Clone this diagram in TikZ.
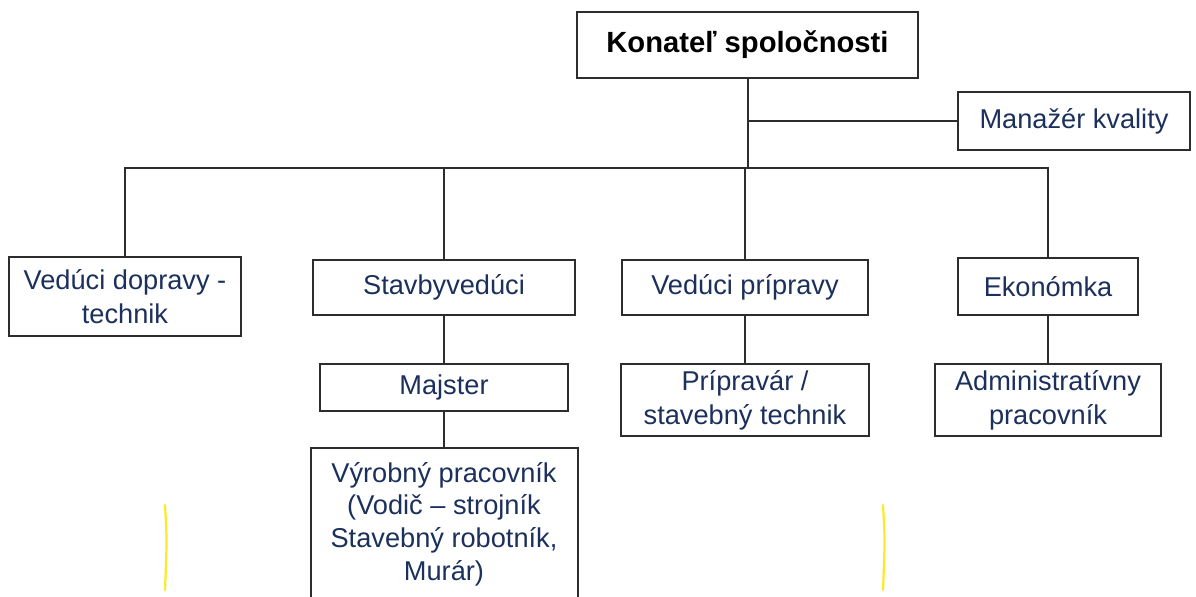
\documentclass[tikz,border=0pt]{standalone}
\usepackage{fontspec}
\setmainfont{Liberation Sans}
\definecolor{txtblue}{RGB}{28,48,92}
\definecolor{edge}{RGB}{45,45,45}
\definecolor{mark}{RGB}{250,235,40}
\begin{document}
\begin{tikzpicture}[x=0.5pt,y=-0.5pt,
  orgbox/.style={draw=edge, line width=1pt, fill=white, inner sep=0pt, align=center,
    text=txtblue, font=\fontsize{13.6}{16.8}\selectfont},
  conn/.style={draw=edge, line width=1pt},
  artifact/.style={draw=mark, line width=1.1pt, line cap=round}]
\useasboundingbox[fill=white] (0,0) rectangle (1196,596);
\begin{scope}
\clip (0,0) rectangle (1196,596);
\node[orgbox, text=black, font=\bfseries\fontsize{14.6}{17}\selectfont,
  minimum width=170.5pt, minimum height=33pt] (konatel) at (747.5,45) {Konateľ spoločnosti};
\node[orgbox, minimum width=116pt, minimum height=29pt] (manazer) at (1074,121) {Manažér kvality};
\node[orgbox, minimum width=116pt, minimum height=39.5pt] (doprava) at (125,296.5) {Vedúci dopravy -\\technik};
\node[orgbox, minimum width=131pt, minimum height=27.5pt] (stavby) at (444,287.5) {Stavbyvedúci};
\node[orgbox, minimum width=123pt, minimum height=27.5pt] (priprava) at (745,287.5) {Vedúci prípravy};
\node[orgbox, minimum width=90pt, minimum height=28.5pt] (ekonomka) at (1048,286.5) {Ekonómka};
\node[orgbox, minimum width=124pt, minimum height=23.5pt] (majster) at (444,387.5) {Majster};
\node[orgbox, minimum width=124pt, minimum height=36pt] (pripravar) at (745,400) {Prípravár /\\stavebný technik};
\node[orgbox, minimum width=113pt, minimum height=36pt] (admin) at (1048,400) {Administratívny\\pracovník};
\node[orgbox, font=\fontsize{13.6}{16.4}\selectfont, minimum width=133.5pt, minimum height=76pt] (vyrobny) at (444,524) {Výrobný pracovník\\(Vodič – strojník\\Stavebný robotník,\\Murár)};
\coordinate (busy) at (0,168);
\draw[conn] (konatel.south) -- (konatel.south |- busy);
\draw[conn] (konatel.south |- manazer.west) -- (manazer.west);
\draw[conn] (doprava.north) -- (doprava.north |- busy) -- (ekonomka.north |- busy) -- (ekonomka.north);
\draw[conn] (stavby.north) -- (stavby.north |- busy);
\draw[conn] (priprava.north) -- (priprava.north |- busy);
\draw[conn] (stavby.south) -- (majster.north);
\draw[conn] (majster.south) -- (vyrobny.north);
\draw[conn] (priprava.south) -- (pripravar.north);
\draw[conn] (ekonomka.south) -- (admin.north);
\draw[artifact] (165,505) .. controls (167,540) .. (165,590);
\draw[artifact] (883,505) .. controls (885,540) .. (883,590);
\end{scope}
\end{tikzpicture}
\end{document}
